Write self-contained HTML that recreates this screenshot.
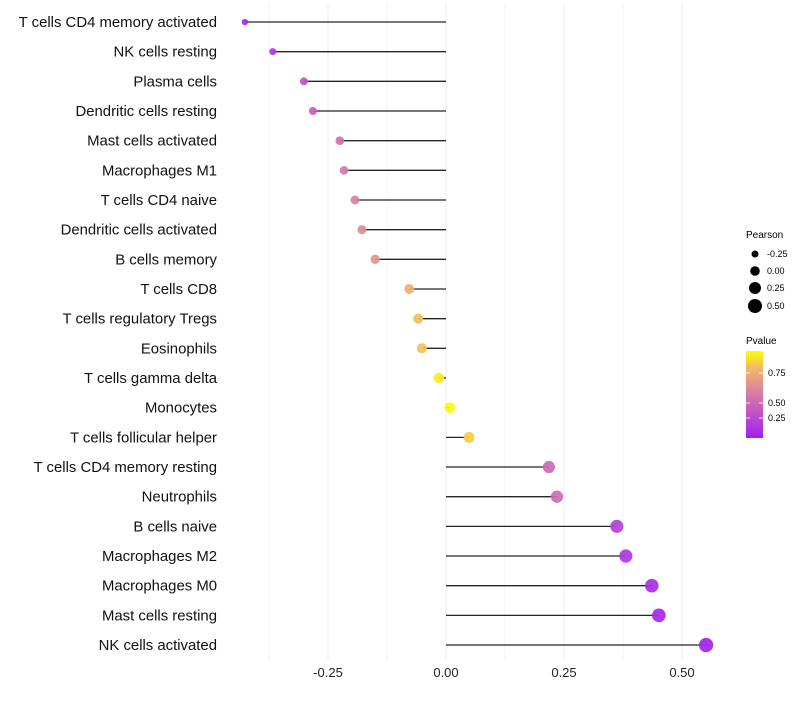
<!DOCTYPE html>
<html><head><meta charset="utf-8"><style>
body{margin:0;background:#fff;font-family:"Liberation Sans",sans-serif}
</style></head><body>
<svg id="chart" width="800" height="700" xmlns="http://www.w3.org/2000/svg">
<defs><linearGradient id="pg" x1="0" y1="1" x2="0" y2="0">
<stop offset="0" stop-color="#a020f0"/><stop offset="0.5" stop-color="#d77aa6"/><stop offset="0.8" stop-color="#f0b86a"/><stop offset="1" stop-color="#ffff00"/>
</linearGradient></defs>
<g id="grid"></g><g id="marks"></g><g id="labels"></g>
<g font-size="9">
<text x="746" y="238" font-size="10">Pearson</text>
<circle cx="755" cy="254" r="3.5"/><text x="767" y="257">-0.25</text>
<circle cx="755" cy="271" r="4.8"/><text x="767" y="274">0.00</text>
<circle cx="755" cy="288" r="6"/><text x="767" y="291">0.25</text>
<circle cx="755" cy="306" r="7"/><text x="767" y="309">0.50</text>
</g>
<g font-size="9">
<text x="746" y="344" font-size="10">Pvalue</text>
<rect x="746" y="351" width="17" height="87" fill="url(#pg)"/>
<g stroke="#fff" stroke-width="0.8"><line x1="746" x2="750" y1="373" y2="373"/><line x1="759" x2="763" y1="373" y2="373"/><line x1="746" x2="750" y1="403" y2="403"/><line x1="759" x2="763" y1="403" y2="403"/><line x1="746" x2="750" y1="418" y2="418"/><line x1="759" x2="763" y1="418" y2="418"/></g>
<text x="768" y="376">0.75</text><text x="768" y="406">0.50</text><text x="768" y="421">0.25</text>
</g>
</svg>
<script>
const categories=["T cells CD4 memory activated","NK cells resting","Plasma cells","Dendritic cells resting","Mast cells activated","Macrophages M1","T cells CD4 naive","Dendritic cells activated","B cells memory","T cells CD8","T cells regulatory  Tregs ","Eosinophils","T cells gamma delta","Monocytes","T cells follicular helper","T cells CD4 memory resting","Neutrophils","B cells naive","Macrophages M2","Macrophages M0","Mast cells resting","NK cells activated"];
const pearson=[-0.426,-0.367,-0.301,-0.282,-0.225,-0.216,-0.193,-0.178,-0.150,-0.078,-0.059,-0.051,-0.015,0.008,0.049,0.218,0.235,0.362,0.381,0.436,0.451,0.551];
const pvalues=[0.05,0.15,0.28,0.35,0.45,0.50,0.55,0.58,0.63,0.76,0.82,0.83,0.95,0.98,0.86,0.40,0.42,0.18,0.15,0.07,0.05,0.02];
const xTicks=[-0.25,0,0.25,0.5];
const xTickLabels=["-0.25","0.00","0.25","0.50"];
const NS="http://www.w3.org/2000/svg";
const xs=v=>446+v*472;
const ys=i=>22+i*29.667;
const rs=v=>Math.sqrt(Math.max(3,28+42*v));
const stops=[[0,[160,32,240]],[0.5,[215,122,166]],[0.8,[240,184,106]],[1,[255,255,0]]];
function col(p){for(let i=1;i<stops.length;i++){if(p<=stops[i][0]){const a=stops[i-1],b=stops[i],t=(p-a[0])/(b[0]-a[0]);return "rgb("+a[1].map((c,k)=>Math.round(c+(b[1][k]-c)*t)).join(",")+")";}}return "rgb(255,255,0)";}
function mk(t,a,parent){const e=document.createElementNS(NS,t);for(const k in a)e.setAttribute(k,a[k]);document.getElementById(parent).appendChild(e);return e;}
for(let v=-0.375;v<=0.55;v+=0.125){const g=mk("line",{x1:xs(v),x2:xs(v),y1:5,y2:660,stroke:"#ebebeb","stroke-width":Math.abs(v*4-Math.round(v*4))<0.01?1:0.6},"grid");

}
xTicks.forEach((v,i)=>{const t=mk("text",{x:xs(v),y:677,"text-anchor":"middle","font-size":13,fill:"#222"},"labels");t.textContent=xTickLabels[i];

});
categories.forEach((c,i)=>{
const y=ys(i);
const l=mk("line",{x1:xs(0),x2:xs(pearson[i]),y1:y,y2:y,stroke:"#000","stroke-width":1.3,"stroke-opacity":0.85},"marks");


const d=mk("circle",{cx:xs(pearson[i]),cy:y,r:rs(pearson[i]),fill:col(pvalues[i]),"fill-opacity":0.92},"marks");


const t=mk("text",{x:217,y:y+5,"text-anchor":"end","font-size":14.9,fill:"#111","xml:space":"preserve"},"labels");t.textContent=c;


});
</script>
</body></html>
